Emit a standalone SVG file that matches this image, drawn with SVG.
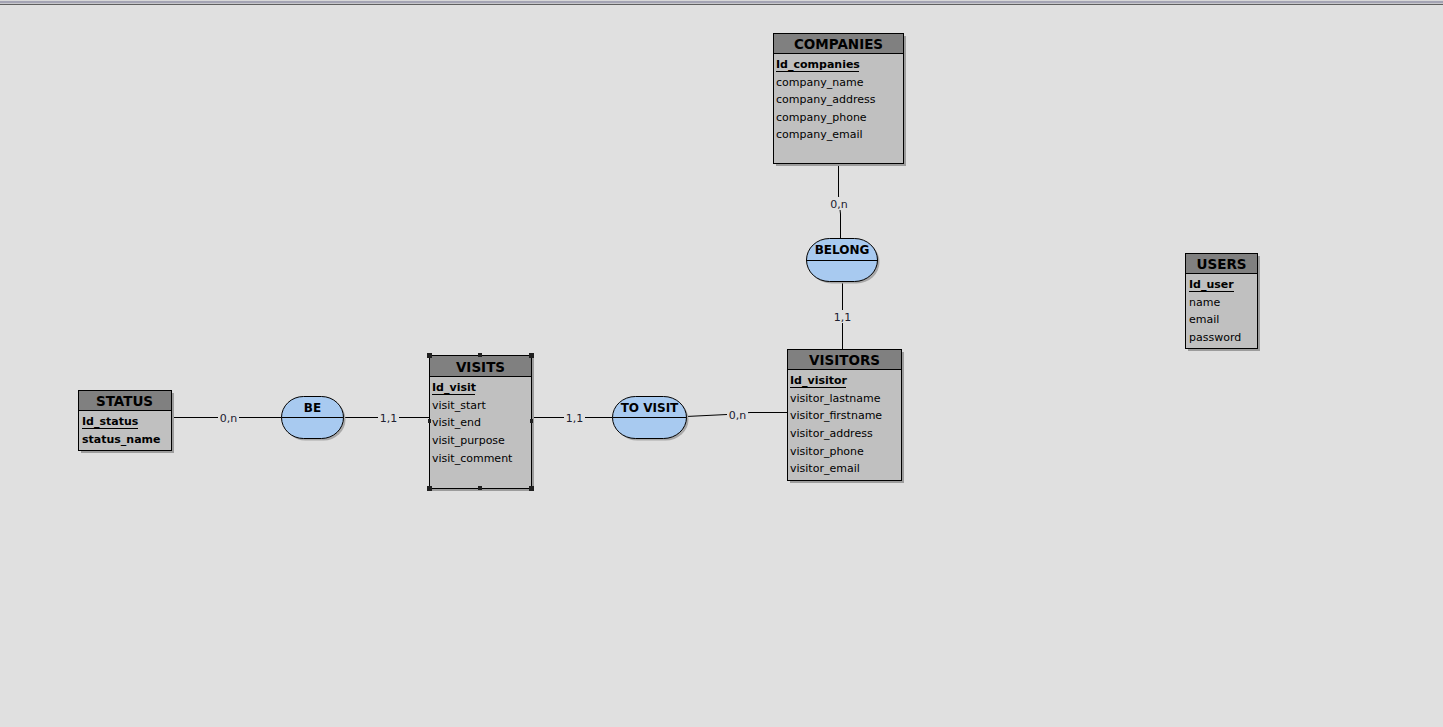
<svg xmlns="http://www.w3.org/2000/svg" width="1443" height="727" viewBox="0 0 1443 727">
  <defs>
    <style>
      .bg { fill: #e0e0e0; }
      .shadow { fill: #9c9c9c; }
      .body { fill: #c0c0c0; stroke: #000; stroke-width: 1; }
      .head { fill: #808080; stroke: #000; stroke-width: 1; }
      .title { font-family: "DejaVu Sans", Verdana, sans-serif; font-size: 13.5px; font-weight: bold; fill: #000; text-anchor: middle; }
      .attr { font-family: "DejaVu Sans", Verdana, sans-serif; font-size: 11px; fill: #000; }
      .key { font-family: "DejaVu Sans", Verdana, sans-serif; font-size: 11px; font-weight: bold; fill: #000; }
      .rel { fill: #a8caf0; stroke: #000; stroke-width: 1; }
      .rshadow { fill: #a8a8a8; }
      .rtitle { font-family: "DejaVu Sans", Verdana, sans-serif; font-size: 12px; font-weight: bold; fill: #000; text-anchor: middle; }
      .link { stroke: #000; stroke-width: 1; fill: none; }
      .card { font-family: "DejaVu Sans", Verdana, sans-serif; font-size: 11px; fill: #202030; text-anchor: middle; }
      .cardbg { fill: #e0e0e0; }
      .uline { stroke: #000; stroke-width: 1; }
      .handle { fill: #202020; }
    </style>
  </defs>

  <!-- canvas -->
  <rect class="bg" x="0" y="0" width="1443" height="727"/>
  <rect x="0" y="0" width="1443" height="1" fill="#d8d8d8"/>
  <rect x="0" y="1" width="1443" height="2" fill="#a4a4b4"/>
  <rect x="0" y="3" width="1443" height="1" fill="#c8c8cc"/>
  <rect x="0" y="4" width="1443" height="1" fill="#606060"/>

  <!-- connectors -->
  <g id="connectors">
    <!-- COMPANIES - BELONG -->
    <polyline class="link" points="838.5,163 838.5,196 840.5,214 840.5,238"/>
    <rect class="cardbg" x="829" y="197" width="20" height="13"/>
    <text class="card" x="839" y="207.5">0,n</text>
    <!-- BELONG - VISITORS -->
    <line class="link" x1="842.5" y1="281" x2="842.5" y2="349"/>
    <rect class="cardbg" x="833" y="310" width="20" height="13"/>
    <text class="card" x="842.5" y="320.5">1,1</text>
    <!-- STATUS - BE -->
    <line class="link" x1="171" y1="417.5" x2="281" y2="417.5"/>
    <rect class="cardbg" x="218" y="411" width="21" height="13"/>
    <text class="card" x="228.5" y="421.5">0,n</text>
    <!-- BE - VISITS -->
    <line class="link" x1="343" y1="417.5" x2="429" y2="417.5"/>
    <rect class="cardbg" x="378" y="411" width="21" height="13"/>
    <text class="card" x="388.5" y="421.5">1,1</text>
    <!-- VISITS - TO VISIT -->
    <line class="link" x1="531" y1="417.5" x2="612" y2="417.5"/>
    <rect class="cardbg" x="564" y="411" width="21" height="13"/>
    <text class="card" x="574.5" y="421.5">1,1</text>
    <!-- TO VISIT - VISITORS -->
    <polyline class="link" points="686,416.5 727,414.5 750,412.5 787,412.5"/>
    <rect class="cardbg" x="727" y="408" width="21" height="13"/>
    <text class="card" x="737.5" y="418.5">0,n</text>
  </g>

  <!-- COMPANIES -->
  <g id="companies">
    <rect class="shadow" x="776" y="36" width="130" height="130"/>
    <rect class="body" x="773.5" y="33.5" width="130" height="130"/>
    <rect class="head" x="773.5" y="33.5" width="130" height="20"/>
    <text class="title" x="838.5" y="48.5">COMPANIES</text>
    <text class="key" x="776" y="67.5">Id_companies</text>
    <line class="uline" x1="776" y1="71.5" x2="859" y2="71.5"/>
    <text class="attr" x="776" y="85.5">company_name</text>
    <text class="attr" x="776" y="103">company_address</text>
    <text class="attr" x="776" y="120.5">company_phone</text>
    <text class="attr" x="776" y="138">company_email</text>
  </g>

  <!-- BELONG -->
  <g id="belong">
    <rect class="rshadow" x="808.5" y="240.5" width="71" height="43" rx="23" ry="21.5"/>
    <rect class="rel" x="806.5" y="238.5" width="71" height="43" rx="23" ry="21.5"/>
    <line class="link" x1="806.5" y1="260.5" x2="877.5" y2="260.5"/>
    <text class="rtitle" x="842" y="253.5">BELONG</text>
  </g>

  <!-- USERS -->
  <g id="users">
    <rect class="shadow" x="1188" y="256" width="72" height="95"/>
    <rect class="body" x="1185.5" y="253.5" width="72" height="95"/>
    <rect class="head" x="1185.5" y="253.5" width="72" height="20"/>
    <text class="title" x="1221.5" y="268.5">USERS</text>
    <text class="key" x="1189" y="288">Id_user</text>
    <line class="uline" x1="1189" y1="291.5" x2="1234" y2="291.5"/>
    <text class="attr" x="1189" y="305.5">name</text>
    <text class="attr" x="1189" y="323">email</text>
    <text class="attr" x="1189" y="340.5">password</text>
  </g>

  <!-- STATUS -->
  <g id="status">
    <rect class="shadow" x="81" y="393" width="93" height="60"/>
    <rect class="body" x="78.5" y="390.5" width="93" height="60"/>
    <rect class="head" x="78.5" y="390.5" width="93" height="20"/>
    <text class="title" x="124.5" y="405.5">STATUS</text>
    <text class="key" x="82" y="424.5">Id_status</text>
    <line class="uline" x1="82" y1="428.5" x2="138" y2="428.5"/>
    <text class="key" x="82" y="442.5">status_name</text>
  </g>

  <!-- BE -->
  <g id="be">
    <rect class="rshadow" x="283.5" y="398.5" width="62" height="42" rx="22" ry="21"/>
    <rect class="rel" x="281.5" y="396.5" width="62" height="42" rx="22" ry="21"/>
    <line class="link" x1="281.5" y1="417.5" x2="343.5" y2="417.5"/>
    <text class="rtitle" x="312.5" y="412">BE</text>
  </g>

  <!-- VISITS -->
  <g id="visits">
    <rect class="shadow" x="432" y="358" width="102" height="133"/>
    <rect class="body" x="429.5" y="355.5" width="102" height="133"/>
    <rect class="head" x="429.5" y="355.5" width="102" height="21"/>
    <text class="title" x="480.5" y="371.5">VISITS</text>
    <text class="key" x="432" y="390.5">Id_visit</text>
    <line class="uline" x1="432" y1="394.5" x2="475" y2="394.5"/>
    <text class="attr" x="432" y="408.5">visit_start</text>
    <text class="attr" x="432" y="426">visit_end</text>
    <text class="attr" x="432" y="443.5">visit_purpose</text>
    <text class="attr" x="432" y="461.5">visit_comment</text>
    <!-- selection handles -->
    <rect class="handle" x="427" y="353" width="5" height="5"/>
    <rect class="handle" x="529" y="353" width="5" height="5"/>
    <rect class="handle" x="427" y="486" width="5" height="5"/>
    <rect class="handle" x="529" y="486" width="5" height="5"/>
    <rect class="handle" x="478" y="353" width="4" height="4"/>
    <rect class="handle" x="478" y="486" width="4" height="4"/>
    <rect class="handle" x="428" y="419" width="3" height="4"/>
    <rect class="handle" x="530" y="419" width="3" height="4"/>
  </g>

  <!-- TO VISIT -->
  <g id="to-visit">
    <rect class="rshadow" x="614.5" y="398.5" width="74" height="42" rx="23" ry="21"/>
    <rect class="rel" x="612.5" y="396.5" width="74" height="42" rx="23" ry="21"/>
    <line class="link" x1="612.5" y1="417.5" x2="686.5" y2="417.5"/>
    <text class="rtitle" x="649.5" y="412">TO VISIT</text>
  </g>

  <!-- VISITORS -->
  <g id="visitors">
    <rect class="shadow" x="790" y="352" width="114" height="131"/>
    <rect class="body" x="787.5" y="349.5" width="114" height="131"/>
    <rect class="head" x="787.5" y="349.5" width="114" height="20"/>
    <text class="title" x="844.5" y="364.5">VISITORS</text>
    <text class="key" x="790" y="383.5">Id_visitor</text>
    <line class="uline" x1="790" y1="387.5" x2="846" y2="387.5"/>
    <text class="attr" x="790" y="401.5">visitor_lastname</text>
    <text class="attr" x="790" y="419">visitor_firstname</text>
    <text class="attr" x="790" y="437">visitor_address</text>
    <text class="attr" x="790" y="454.5">visitor_phone</text>
    <text class="attr" x="790" y="472">visitor_email</text>
  </g>
</svg>
